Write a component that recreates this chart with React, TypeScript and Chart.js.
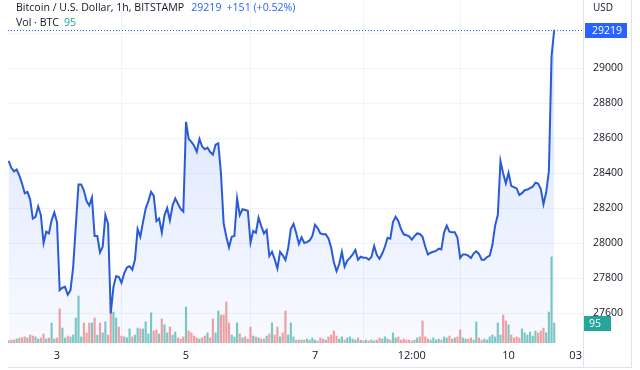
import React, { useEffect, useRef } from 'react';
import Chart from 'chart.js/auto';

// Hourly BTC/USD closes (Bitstamp, 1h)
const PRICES: number[] = [
  28470, 28430, 28410, 28420, 28385, 28340, 28285, 28293, 28250, 28140,
  28150, 28210, 28160, 28000, 28065, 28055, 28130, 28175, 28120, 27731,
  27745, 27750, 27705, 27730, 27860, 28100, 28335, 28335, 28300, 28240,
  28215, 28260, 28040, 28040, 27947, 27979, 28160, 28110, 27598, 27750,
  27811, 27807, 27773, 27827, 27860, 27868, 27848, 27905, 28080, 28036,
  28120, 28198, 28240, 28293, 28270, 28125, 28140, 28060, 28160, 28200,
  28130, 28215, 28255, 28225, 28195, 28180, 28693, 28595, 28578, 28556,
  28522, 28595, 28552, 28536, 28545, 28520, 28505, 28562, 28570, 28400,
  28113, 28036, 27975, 28036, 28040, 28255, 28160, 28193, 28189, 28185,
  28002, 28070, 28059, 28145, 28097, 28055, 28074, 27926, 27950, 27907,
  27855, 27950, 27930, 27903, 27970, 28080, 28110, 28058, 27995, 28033,
  28000, 28005, 28015, 28040, 28105, 28085, 28055, 28050, 28050, 28027,
  27975, 27890, 27840, 27880, 27950, 27865, 27900, 27915, 27935, 27960,
  27905, 27922, 27916, 27916, 27905, 27920, 27983, 27931, 27910, 27940,
  27979, 28030, 28025, 28120, 28150, 28125, 28080, 28050, 28045, 28038,
  28020, 28040, 28055, 28052, 28036, 27980, 27935, 27945, 27950, 27955,
  27968, 27964, 28060, 28100, 28065, 28062, 28062, 28030, 27915, 27935,
  27935, 27928, 27915, 27940, 27953, 27938, 27905, 27905, 27920, 27928,
  27990, 28100, 28160, 28469, 28398, 28341, 28402, 28327, 28320, 28312,
  28275, 28285, 28302, 28306, 28314, 28322, 28345, 28340, 28308, 28222,
  28290, 28410, 29068, 29219,
];

// Hourly volume in BTC
const VOLUMES: number[] = [
  10, 14, 14, 19, 24, 24, 29, 24, 38, 33,
  29, 19, 24, 43, 19, 24, 95, 19, 24, 162,
  71, 24, 33, 29, 38, 119, 223, 29, 95, 48,
  95, 95, 119, 38, 95, 48, 100, 38, 190, 147,
  119, 76, 33, 29, 24, 67, 29, 38, 71, 67,
  67, 100, 43, 143, 57, 62, 43, 114, 86, 48,
  76, 38, 52, 24, 19, 29, 171, 57, 48, 33,
  24, 19, 24, 33, 48, 24, 114, 48, 152, 133,
  133, 195, 95, 38, 29, 95, 43, 24, 29, 19,
  76, 33, 29, 24, 19, 19, 33, 43, 95, 38,
  76, 29, 48, 152, 38, 95, 29, 14, 14, 14,
  14, 19, 14, 24, 14, 10, 24, 19, 14, 29,
  38, 57, 33, 19, 29, 14, 24, 29, 19, 14,
  24, 14, 10, 14, 10, 14, 10, 14, 24, 19,
  29, 19, 14, 48, 24, 29, 14, 19, 14, 14,
  10, 14, 24, 29, 105, 29, 19, 14, 24, 14,
  19, 14, 29, 24, 33, 19, 24, 29, 62, 24,
  19, 19, 24, 14, 100, 24, 14, 19, 14, 29,
  38, 29, 95, 38, 133, 105, 86, 38, 24, 29,
  24, 67, 48, 38, 52, 33, 57, 48, 57, 71,
  48, 147, 409, 95,
];

// Time axis: hour index of each label
const X_TICK_VALUES: number[] = [18, 66, 114, 150, 186, 211.5];
const X_TICK_LABELS: string[] = ['3', '5', '7', '12:00', '10', '03:'];
const Y_TICKS: number[] = [27600, 27800, 28000, 28200, 28400, 28600, 28800, 29000, 29200];

const TITLE = 'Bitcoin / U.S. Dollar, 1h, BITSTAMP';
const LAST_TEXT = '29219';
const CHANGE_TEXT = '+151 (+0.52%)';
const VOL_TITLE = 'Vol · BTC';

const LINE_COLOR = '#2a5bd7';
const LABEL_BLUE = '#2962ff';
const UP_COLOR = 'rgba(38,166,154,0.6)';
const DOWN_COLOR = 'rgba(239,83,80,0.55)';
const GRID = '#f0f3fa';
const TEXT = '#131722';
const FONT = '"Open Sans", Roboto, sans-serif';

const overlayPlugin = {
  id: 'tvOverlay',
  afterDraw(chart: any) {
    const ctx = chart.ctx;
    const { left, right } = chart.chartArea;
    const yS = chart.scales.y;
    const vS = chart.scales.vol;
    const lastP = PRICES[PRICES.length - 1];
    const lastV = VOLUMES[VOLUMES.length - 1];
    const py = Math.round(yS.getPixelForValue(lastP)) + 0.5;
    ctx.save();
    ctx.strokeStyle = '#e0e3eb';
    ctx.lineWidth = 1;
    ctx.beginPath();
    ctx.moveTo(right + 0.5, 0);
    ctx.lineTo(right + 0.5, 368);
    ctx.moveTo(631.5, 0);
    ctx.lineTo(631.5, 368);
    ctx.moveTo(8, 367.5);
    ctx.lineTo(632, 367.5);
    ctx.stroke();
    ctx.strokeStyle = LABEL_BLUE;
    ctx.setLineDash([1, 2]);
    ctx.beginPath();
    ctx.moveTo(left, py);
    ctx.lineTo(right, py);
    ctx.stroke();
    ctx.setLineDash([]);
    ctx.fillStyle = LABEL_BLUE;
    ctx.fillRect(right + 2, py - 7.5, 42, 15);
    ctx.fillStyle = '#ffffff';
    ctx.font = '10.5px ' + FONT;
    ctx.textBaseline = 'middle';
    ctx.textAlign = 'left';
    ctx.fillText(String(lastP), right + 9, py + 0.5);
    const vy = Math.round(vS.getPixelForValue(lastV));
    ctx.fillStyle = '#26a69a';
    ctx.fillRect(right + 1, vy - 7, 27, 15);
    ctx.fillStyle = '#ffffff';
    ctx.fillText(String(lastV), right + 6, vy + 1);
    ctx.restore();
  },
};

export default function App() {
  const canvasRef = useRef<HTMLCanvasElement | null>(null);

  useEffect(() => {
    const canvas = canvasRef.current;
    if (!canvas) return;
    const linePoints = PRICES.map((p, i) => ({ x: i, y: p }));
    const volPoints = VOLUMES.map((v, i) => ({ x: i, y: v }));
    const volColors = VOLUMES.map((_, i) =>
      i === 0 || PRICES[i] >= PRICES[i - 1] ? UP_COLOR : DOWN_COLOR
    );
    const chart = new Chart(canvas, {
      type: 'line',
      data: {
        datasets: [
          {
            type: 'line',
            data: linePoints,
            xAxisID: 'x',
            yAxisID: 'y',
            borderColor: LINE_COLOR,
            borderWidth: 2,
            pointRadius: 0,
            tension: 0,
            fill: 'start',
            backgroundColor: (c: any) => {
              const area = c.chart.chartArea;
              if (!area) return 'rgba(41,98,255,0.1)';
              const g = c.chart.ctx.createLinearGradient(0, area.top, 0, area.bottom);
              g.addColorStop(0, 'rgba(41,98,255,0.2)');
              g.addColorStop(1, 'rgba(41,98,255,0.03)');
              return g;
            },
            order: 0,
          } as any,
          {
            type: 'bar',
            data: volPoints,
            xAxisID: 'x',
            yAxisID: 'vol',
            backgroundColor: volColors,
            barThickness: 1.5,
            order: 1,
          } as any,
        ],
      },
      options: {
        animation: false,
        responsive: false,
        maintainAspectRatio: false,
        layout: { padding: { left: 8, right: 0, top: 0, bottom: 0 } },
        plugins: { legend: { display: false }, tooltip: { enabled: false }, title: { display: false } },
        scales: {
          x: {
            type: 'linear',
            min: -0.23,
            max: 213.7,
            offset: false,
            afterBuildTicks: (s: any) => {
              s.ticks = X_TICK_VALUES.map((v) => ({ value: v }));
            },
            afterFit: (s: any) => {
              s.height = 27;
              s.paddingLeft = 0;
              s.paddingRight = 0;
            },
            ticks: {
              autoSkip: false,
              maxRotation: 0,
              padding: 6,
              color: TEXT,
              font: { family: FONT, size: 11 },
              callback: (_v: any, i: number) => X_TICK_LABELS[i],
            },
            grid: {
              drawTicks: false,
              color: (c: any) => (c.index === X_TICK_VALUES.length - 1 ? 'rgba(0,0,0,0)' : GRID),
            },
            border: { display: false },
          },
          y: {
            type: 'linear',
            position: 'right',
            min: 27429,
            max: 29389,
            afterBuildTicks: (s: any) => {
              s.ticks = Y_TICKS.map((v) => ({ value: v }));
            },
            afterFit: (s: any) => {
              s.width = 57;
              s.paddingTop = 0;
              s.paddingBottom = 0;
            },
            ticks: {
              padding: 10,
              color: TEXT,
              font: { family: FONT, size: 10.5 },
              callback: (v: any) => String(v),
            },
            grid: { drawTicks: false, color: GRID },
            border: { display: false },
          },
          vol: {
            type: 'linear',
            display: false,
            min: 0,
            max: 1629,
          },
        },
      },
      plugins: [overlayPlugin],
    } as any);
    return () => chart.destroy();
  }, []);

  return (
    <div style={{ position: 'fixed', left: 0, top: 0, width: 640, height: 370, background: '#ffffff' }}>
      <canvas ref={canvasRef} width={640} height={370} style={{ display: 'block' }} />
      <div
        style={{
          position: 'absolute',
          left: 16,
          top: 0,
          fontFamily: FONT,
          fontSize: 10.6,
          lineHeight: '14px',
          color: TEXT,
          whiteSpace: 'nowrap',
        }}
      >
        <div>
          {TITLE}
          <span style={{ color: LABEL_BLUE, marginLeft: 7 }}>{LAST_TEXT}</span>
          <span style={{ color: LABEL_BLUE, marginLeft: 5 }}>{CHANGE_TEXT}</span>
        </div>
        <div style={{ marginTop: 1 }}>
          {VOL_TITLE}
          <span style={{ color: '#26a69a', marginLeft: 5 }}>{VOLUMES[VOLUMES.length - 1]}</span>
        </div>
      </div>
      <div
        style={{
          position: 'absolute',
          left: 593,
          top: 0,
          fontFamily: FONT,
          fontSize: 10,
          lineHeight: '14px',
          color: TEXT,
        }}
      >
        USD
      </div>
    </div>
  );
}
